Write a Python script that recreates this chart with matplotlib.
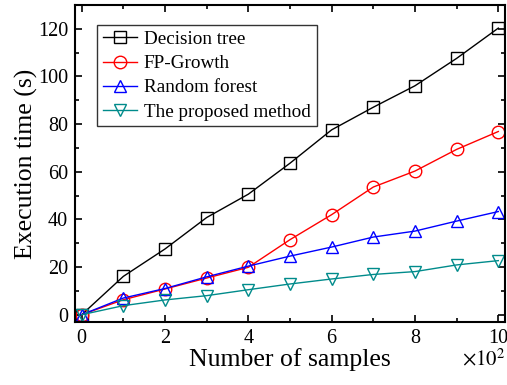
import matplotlib.pyplot as plt
from matplotlib.ticker import MultipleLocator

plt.rcParams['font.family'] = ['Liberation Serif', 'DejaVu Serif']
plt.rcParams['mathtext.fontset'] = 'stix'

samples = [0, 1, 2, 3, 4, 5, 6, 7, 8, 9, 10]
decision_tree = [0, 16.1, 27.6, 40.8, 50.6, 63.6, 77.6, 87.1, 96.1, 107.6, 120.3]
fp_growth = [0, 6.3, 10.8, 15.4, 19.9, 31.5, 42.0, 53.6, 60.3, 69.4, 76.9]
random_forest = [0, 7.0, 11.0, 15.9, 20.4, 24.6, 28.4, 32.6, 35.1, 39.3, 43.3]
proposed = [0, 3.8, 6.2, 8.0, 10.5, 12.9, 15.0, 16.9, 18.1, 20.9, 22.7]

fig = plt.figure(figsize=(5.07, 3.85), dpi=100)
ax = fig.add_axes([0.148, 0.164, 0.848, 0.823])

ax.plot(samples, decision_tree, '-s', color='black', lw=1, ms=8, mfc='none', mew=1,
        label='Decision tree')
ax.plot(samples, fp_growth, '-o', color='red', lw=1, ms=9, mfc='none', mew=1,
        label='FP-Growth')
ax.plot(samples, random_forest, '-^', color='blue', lw=1, ms=9, mfc='none', mew=1,
        label='Random forest')
ax.plot(samples, proposed, '-v', color='#008B8B', lw=1, ms=9, mfc='none', mew=1,
        label='The proposed method')

ax.set_xlim(-0.16, 10.16)
ax.set_ylim(-3, 130)
ax.xaxis.set_major_locator(MultipleLocator(2))
ax.xaxis.set_minor_locator(MultipleLocator(1))
ax.yaxis.set_major_locator(MultipleLocator(20))
ax.yaxis.set_minor_locator(MultipleLocator(10))
ax.tick_params(which='both', direction='in', top=True, right=True, labelsize=14.5, width=1.2)
ax.tick_params(which='major', length=5, pad=5)
ax.tick_params(which='minor', length=3)
for s in ax.spines.values():
    s.set_linewidth(1.5)

ax.set_xlabel('Number of samples', fontsize=18.5, labelpad=0)
ax.set_ylabel('Execution time (s)', fontsize=18.5, labelpad=0)
fig.text(0.998, 0.094, r'$\times10^2$', ha='right', va='top', fontsize=15)

leg = ax.legend(loc='upper left', bbox_to_anchor=(0.051, 0.937), fontsize=13.8, frameon=True,
                fancybox=False, edgecolor='black', handlelength=1.8, handletextpad=0.35,
                borderpad=0.3, labelspacing=0.35, borderaxespad=0)
leg.get_frame().set_linewidth(1)

fig.savefig('out.png', dpi=100)
